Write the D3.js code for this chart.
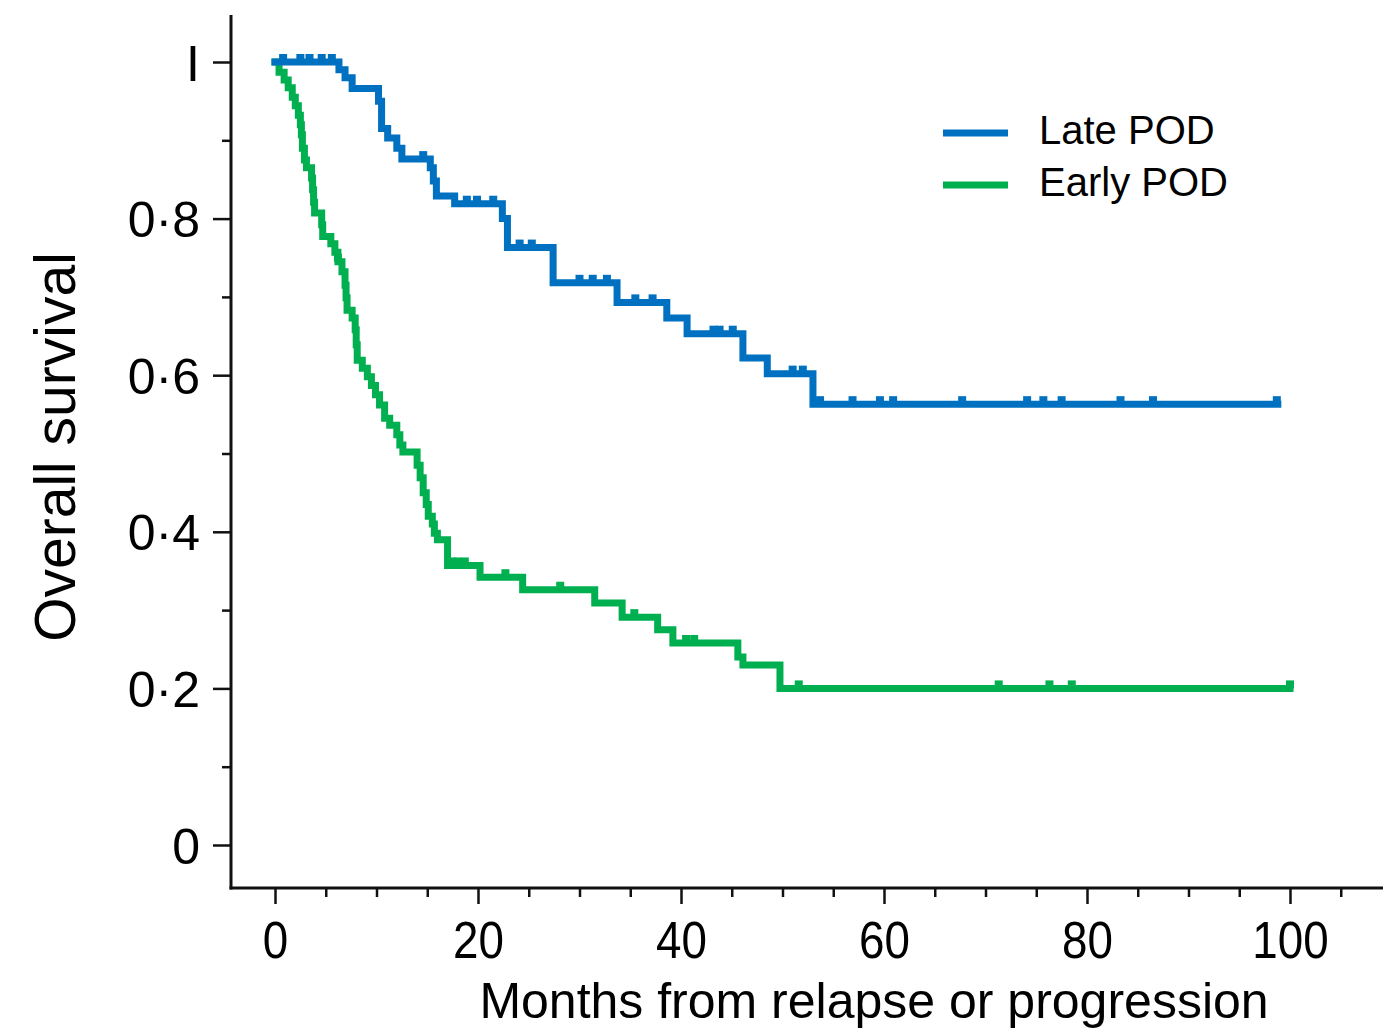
<!DOCTYPE html>
<html>
<head>
<meta charset="utf-8">
<script src="https://cdn.jsdelivr.net/npm/d3@7"></script>
<style>
  body { margin: 0; background: #fff; }
  svg text { font-family: "Liberation Sans", Arial, sans-serif; fill: #000; }
</style>
</head>
<body>
<div class="chart"></div>
<script>
// Kaplan-Meier steps: [month, survival after the drop]
var lateSteps = [
  [6.3, 0.99], [6.9, 0.98], [7.6, 0.966], [10.2, 0.95], [10.5, 0.915], [11.1, 0.903],
  [12.0, 0.89], [12.5, 0.876], [15.3, 0.865], [15.6, 0.848], [15.9, 0.829], [17.7, 0.819],
  [22.4, 0.80], [22.9, 0.763], [27.4, 0.718], [33.7, 0.693], [38.6, 0.673], [40.6, 0.653],
  [46.1, 0.622], [48.5, 0.602], [53.0, 0.563]
];
var lateEnd = 98.8;
var lateCensor = [0.8, 2.5, 3.4, 4.6, 5.6, 14.6, 18.9, 19.9, 21.5, 24.1, 25.3, 30.0, 31.3, 32.7,
  35.5, 37.2, 43.2, 43.8, 45.1, 51.0, 52.0, 53.7, 56.9, 59.6, 60.9, 67.7, 74.1, 75.7, 77.5,
  83.3, 86.5, 98.7];

var earlySteps = [
  [0.4, 0.987], [0.9, 0.977], [1.3, 0.967], [1.7, 0.955], [2.0, 0.944], [2.3, 0.932],
  [2.5, 0.920], [2.6, 0.907], [2.7, 0.890], [2.9, 0.875], [3.1, 0.865], [3.6, 0.852],
  [3.7, 0.837], [3.8, 0.821], [3.9, 0.807], [4.6, 0.792], [4.7, 0.777], [5.5, 0.768],
  [5.9, 0.757], [6.2, 0.745], [6.6, 0.732], [6.9, 0.715], [7.0, 0.699], [7.1, 0.683],
  [7.6, 0.673], [7.9, 0.658], [8.0, 0.639], [8.1, 0.619], [8.6, 0.609], [9.1, 0.598],
  [9.5, 0.587], [9.9, 0.575], [10.3, 0.562], [10.8, 0.545], [11.3, 0.536], [12.0, 0.524],
  [12.3, 0.511], [12.6, 0.502], [14.0, 0.485], [14.3, 0.469], [14.6, 0.45], [14.9, 0.435],
  [15.1, 0.42], [15.5, 0.41], [15.7, 0.398], [16.0, 0.39], [17.0, 0.357], [20.2, 0.342],
  [24.4, 0.326], [31.5, 0.309], [34.2, 0.291], [37.7, 0.275], [39.2, 0.258], [45.6, 0.24],
  [46.1, 0.23], [49.75, 0.2]
];
var earlyEnd = 100;
var earlyCensor = [6.2, 17.5, 18.0, 18.7, 22.7, 28.1, 35.4, 40.5, 41.3, 51.6, 71.3, 76.3, 78.5, 100];

var seriesNames = ["Late POD", "Early POD"];
var seriesColors = ["#0070c0", "#00b050"];

var xMajor = [0, 20, 40, 60, 80, 100];
var xMinor = [5, 10, 15, 25, 30, 35, 45, 50, 55, 65, 70, 75, 85, 90, 95, 105];
var yMajor = [0, 0.2, 0.4, 0.6, 0.8, 1];
var yMinor = [0.1, 0.3, 0.5, 0.7, 0.9];
var yLabels = ["0", "0·2", "0·4", "0·6", "0·8", "I"];

var W = 1383, H = 1033;
var axisX = 231, axisY = 888, axisTop = 15;

var svg = d3.select("div.chart").append("svg")
    .attr("width", W).attr("height", H);

var x = d3.scaleLinear().domain([0, 100]).range([275, 1290]);
var y = d3.scaleLinear().domain([0, 1]).range([845, 62]);

// axis lines
svg.append("line").attr("x1", axisX).attr("x2", axisX).attr("y1", axisTop).attr("y2", axisY + 1.5)
    .attr("stroke", "#111").attr("stroke-width", 3);
svg.append("line").attr("x1", axisX - 1.5).attr("x2", W).attr("y1", axisY).attr("y2", axisY)
    .attr("stroke", "#111").attr("stroke-width", 3);

// y ticks
var yAx = svg.append("g").attr("transform", "translate(" + axisX + ",0)")
    .call(d3.axisLeft(y).tickValues(yMajor).tickSize(18).tickPadding(13)
      .tickFormat(function(d, i){ return yLabels[i]; }));
var yAxMin = svg.append("g").attr("transform", "translate(" + axisX + ",0)")
    .call(d3.axisLeft(y).tickValues(yMinor).tickSize(9).tickFormat(""));

// x ticks
var xAx = svg.append("g").attr("transform", "translate(0," + axisY + ")")
    .call(d3.axisBottom(x).tickValues(xMajor).tickSize(16).tickFormat(d3.format("d")));
var xAxMin = svg.append("g").attr("transform", "translate(0," + axisY + ")")
    .call(d3.axisBottom(x).tickValues(xMinor).tickSize(9).tickFormat(""));

[yAx, yAxMin, xAx, xAxMin].forEach(function(g){
  g.select(".domain").remove();
  g.selectAll(".tick line").attr("stroke", "#111").attr("stroke-width", 2.5);
});

yAx.selectAll("text").attr("font-size", 50).attr("dy", "0.36em");
xAx.selectAll("text").attr("font-size", 52).attr("y", 70).attr("dy", 0)
    .attr("transform", "scale(0.88,1)");

// axis titles
svg.append("text").attr("x", 874).attr("y", 1018).attr("text-anchor", "middle")
    .attr("font-size", 50).text("Months from relapse or progression");
svg.append("text").attr("transform", "translate(75,447) rotate(-90)")
    .attr("text-anchor", "middle").attr("font-size", 57).text("Overall survival");

// curves
function stepPoints(steps, end) {
  var pts = [[0, 1]].concat(steps);
  pts.push([end, steps[steps.length - 1][1]]);
  return pts;
}
function survAt(steps, t) {
  var s = 1;
  for (var i = 0; i < steps.length; i++) {
    if (steps[i][0] <= t) s = steps[i][1];
  }
  return s;
}

var line = d3.line()
    .x(function(d){ return x(d[0]); })
    .y(function(d){ return y(d[1]); })
    .curve(d3.curveStepAfter);

var series = [
  {steps: earlySteps, end: earlyEnd, censor: earlyCensor, color: seriesColors[1]},
  {steps: lateSteps, end: lateEnd, censor: lateCensor, color: seriesColors[0]}
];

series.forEach(function(s){
  svg.append("path")
      .attr("d", line(stepPoints(s.steps, s.end)))
      .attr("fill", "none")
      .attr("stroke", s.color)
      .attr("stroke-width", 7)
      .attr("stroke-linecap", "square");

  // censoring ticks: small bumps above the curve
  svg.selectAll(null)
      .data(s.censor)
      .enter()
      .append("line")
      .attr("x1", function(d){ return x(d); })
      .attr("x2", function(d){ return x(d); })
      .attr("y1", function(d){ return y(survAt(s.steps, d)); })
      .attr("y2", function(d){ return y(survAt(s.steps, d)) - 8; })
      .attr("stroke", s.color)
      .attr("stroke-width", 8);
});

// legend
var legend = svg.append("g");
seriesNames.forEach(function(name, i){
  legend.append("line")
      .attr("x1", 943).attr("x2", 1008)
      .attr("y1", 133 + i * 52).attr("y2", 133 + i * 52)
      .attr("stroke", seriesColors[i]).attr("stroke-width", 7);
  legend.append("text")
      .attr("x", 1039).attr("y", 144 + i * 52)
      .attr("font-size", 40).text(name);
});
</script>
</body>
</html>
